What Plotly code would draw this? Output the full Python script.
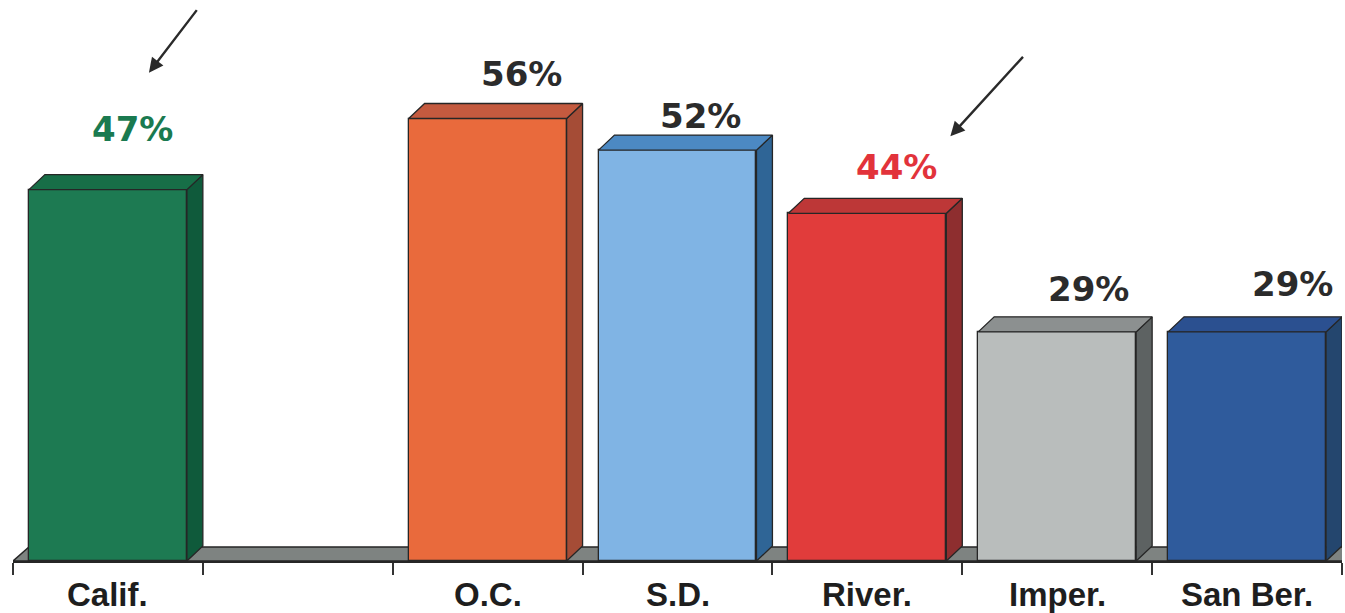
import plotly.graph_objects as go

# ---- data ----
categories = ["Calif.", "", "O.C.", "S.D.", "River.", "Imper.", "San Ber."]
values = [47, None, 56, 52, 44, 29, 29]
value_labels = ["47%", "", "56%", "52%", "44%", "29%", "29%"]

# ---- styling ----
front_colors = ["#1d7a52", None, "#e96a3c", "#80b4e4", "#e13c3b", "#b9bdbc", "#2f5b9c"]
top_colors = ["#176e47", None, "#c45a3f", "#4c89c3", "#bd3737", "#8c9090", "#2b5090"]
side_colors = ["#0f5a3b", None, "#a54c36", "#2f6596", "#8e2e2f", "#5d6262", "#24466e"]
label_colors = ["#1a7a50", None, "#2b2b2b", "#2b2b2b", "#e2333b", "#2b2b2b", "#2b2b2b"]
label_xshift = [25, 0, 34, 23, 29, 31, 45]
label_yshift = [61, 0, 45, 34, 46, 43, 48]

BAR_W = 0.832
DX = 0.084   # depth in x (category units)
DY = 1.9     # depth in y (value units)
EDGE = "#262626"

pos = list(range(len(categories)))

fig = go.Figure()

# floor (3D base) drawn below
x_lo, x_hi = -0.5, len(categories) - 0.5
fig.add_shape(
    type="path",
    path=f"M {x_lo},0 L {x_lo + DX},{DY*0.93} L {x_hi + DX},{DY*0.93} L {x_hi},0 Z",
    xref="x", yref="y", fillcolor="#7e8381", line=dict(color=EDGE, width=1.5),
    layer="below",
)

bx, by, bc = [], [], []
for i, v in enumerate(values):
    if v is None:
        continue
    bx.append(pos[i]); by.append(v); bc.append(front_colors[i])

fig.add_trace(go.Bar(
    x=bx, y=by, width=BAR_W, marker=dict(color=bc, line=dict(color=EDGE, width=1.3)),
    hoverinfo="skip", showlegend=False,
))

for i, v in enumerate(values):
    if v is None:
        continue
    x0 = pos[i] - BAR_W / 2
    x1 = pos[i] + BAR_W / 2
    # side face
    fig.add_trace(go.Scatter(
        x=[x1, x1, x1 + DX, x1 + DX, x1], y=[0, v, v + DY, DY, 0],
        fill="toself", fillcolor=side_colors[i], mode="lines",
        line=dict(color=EDGE, width=1.3), hoverinfo="skip", showlegend=False,
    ))
    # top face
    fig.add_trace(go.Scatter(
        x=[x0, x0 + DX, x1 + DX, x1, x0], y=[v, v + DY, v + DY, v, v],
        fill="toself", fillcolor=top_colors[i], mode="lines",
        line=dict(color=EDGE, width=1.3), hoverinfo="skip", showlegend=False,
    ))
    # value label
    fig.add_annotation(
        x=pos[i], y=v, xref="x", yref="y", text=value_labels[i], showarrow=False,
        xshift=label_xshift[i], yshift=label_yshift[i], yanchor="middle",
        font=dict(family="DejaVu Sans", size=34, color=label_colors[i], weight="bold"),
    )

# category labels under the axis
for i, name in enumerate(categories):
    if not name:
        continue
    fig.add_annotation(
        x=pos[i], y=0, xref="x", yref="y", text=name, showarrow=False,
        yanchor="middle", yshift=-33,
        font=dict(family="Liberation Sans, Arial", size=33, color="#1e1e1e", weight="bold"),
    )

# arrows pointing at Calif. and River.
arrow_targets = [(0, 41, 117, 49, -64), (4, 83, 77, 74, -81)]
for idx, xs, ys, ax, ay in arrow_targets:
    fig.add_annotation(
        x=pos[idx], y=values[idx], xref="x", yref="y", text="", showarrow=True,
        xshift=xs, yshift=ys, ax=ax, ay=ay, arrowhead=2, arrowsize=1.2,
        arrowwidth=2.4, arrowcolor="#2a2a2a", standoff=0,
    )

fig.update_layout(
    width=1345, height=613,
    margin=dict(l=13, r=3, t=0, b=52, autoexpand=False),
    paper_bgcolor="white", plot_bgcolor="white",
    bargap=0, showlegend=False,
    xaxis=dict(
        range=[x_lo, x_hi], tickvals=pos, showticklabels=False, ticks="",
        showline=True, linecolor=EDGE, linewidth=2, showgrid=False, zeroline=False,
        automargin=False,
        minor=dict(tickvals=[p - 0.5 for p in pos] + [x_hi], ticks="outside",
                   ticklen=12, tickwidth=2, tickcolor="#333", showgrid=False),
        fixedrange=True,
    ),
    yaxis=dict(range=[0, 71.0], visible=False, fixedrange=True, automargin=False),
)

fig.write_html("out.html")
